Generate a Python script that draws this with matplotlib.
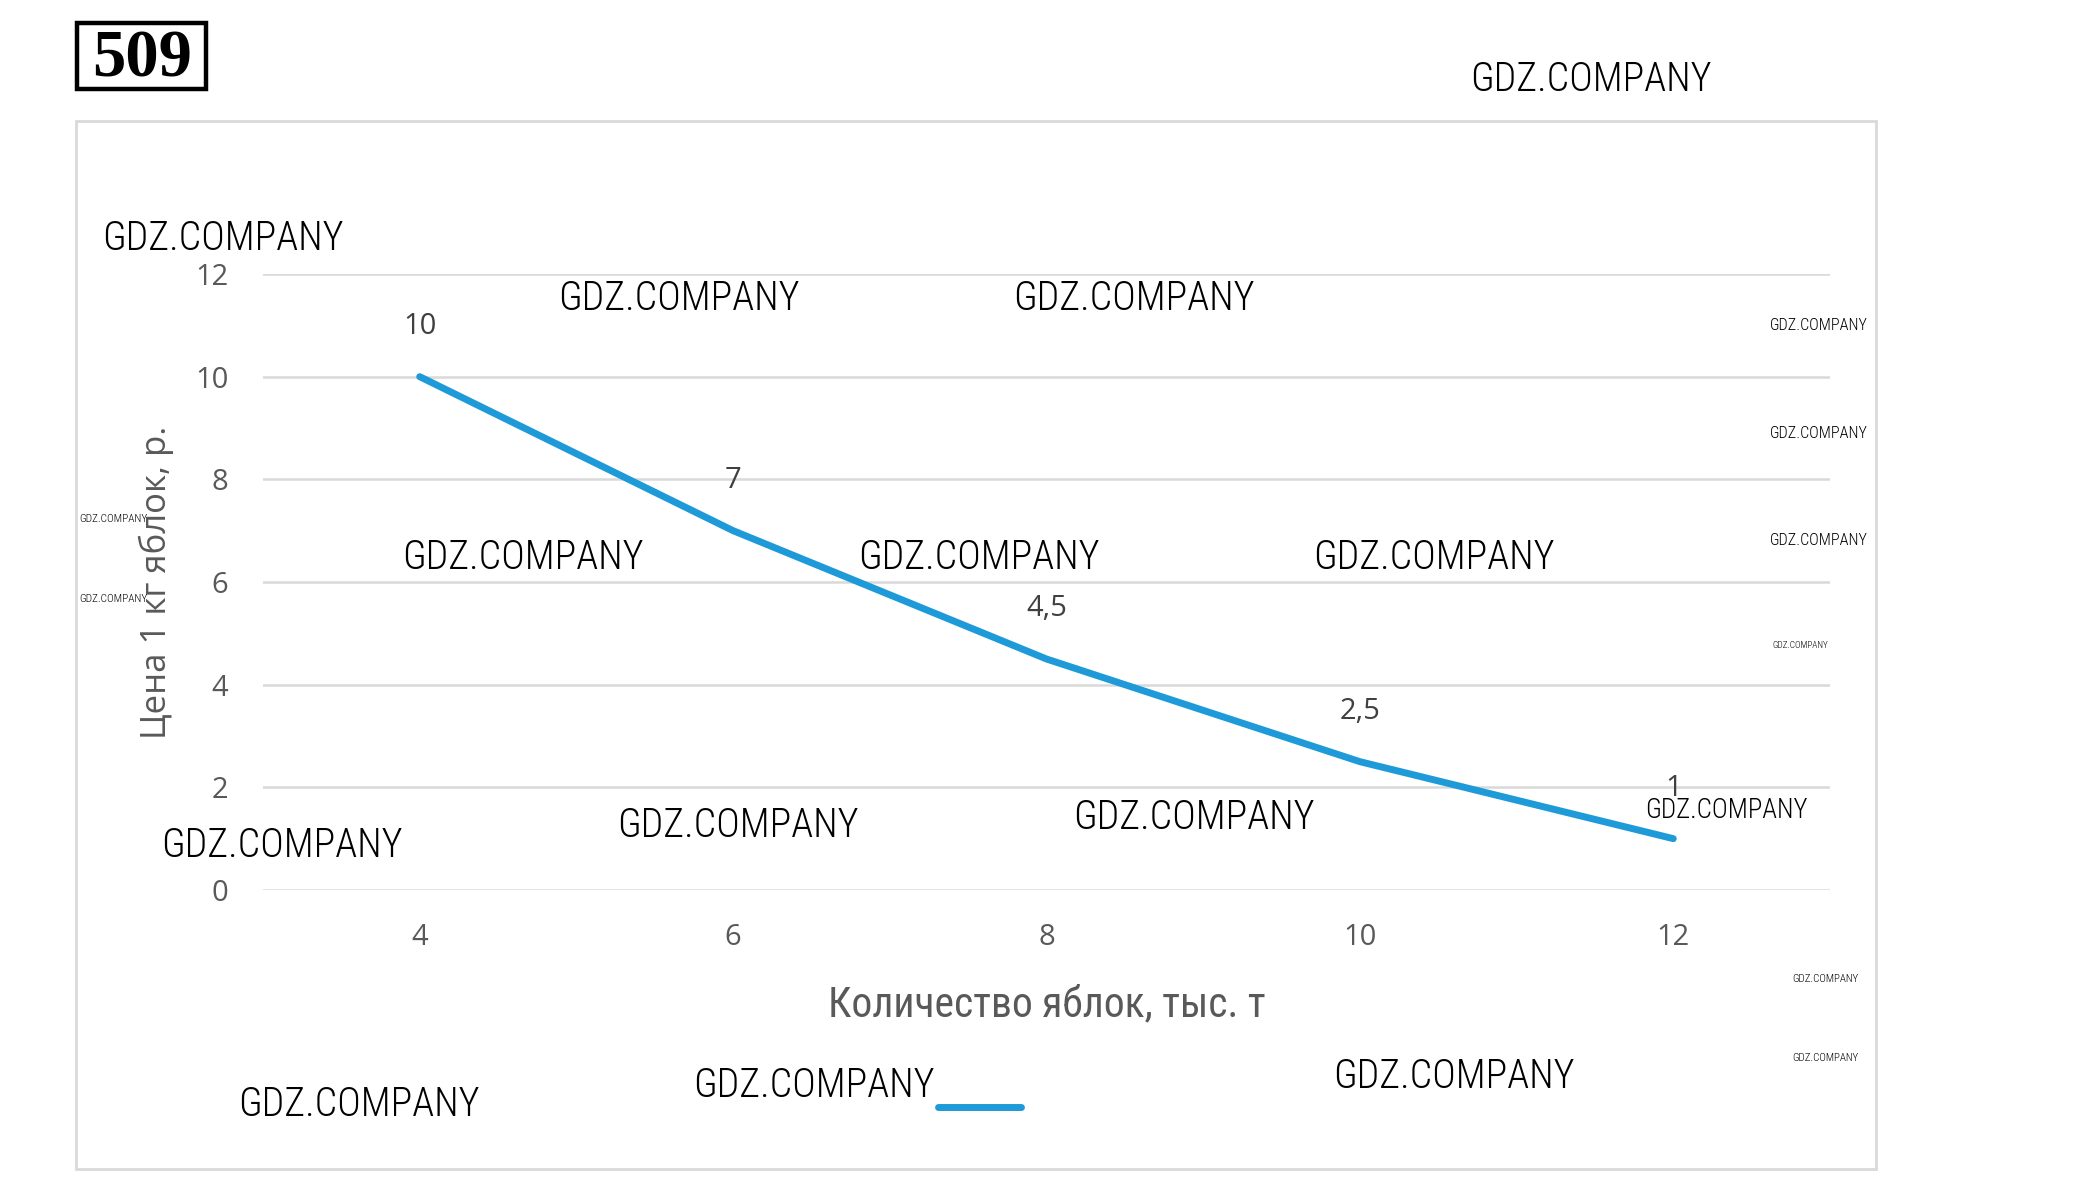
import matplotlib
matplotlib.use('Agg')
import matplotlib.pyplot as plt
from matplotlib import font_manager
from matplotlib.patches import Rectangle

# data
quantity = ['4', '6', '8', '10', '12']          # тыс. т
price = [10, 7, 4.5, 2.5, 1]                     # р. за 1 кг
price_labels = ['10', '7', '4,5', '2,5', '1']
y_ticks = [0, 2, 4, 6, 8, 10, 12]

W, H = 2082, 1184
line_color = '#1f9ad8'
grid_color = '#d9d9d9'

installed = {f.name for f in font_manager.fontManager.ttflist}
narrow = next((n for n in ['Roboto Condensed', 'Liberation Sans Narrow', 'Open Sans Condensed']
               if n in installed), 'DejaVu Sans')
base = 'Open Sans' if 'Open Sans' in installed else 'DejaVu Sans'

fig = plt.figure(figsize=(W / 100, H / 100), dpi=100)
fig.patch.set_facecolor('white')

def fx(px):
    return px / W

def fy(px):
    return 1 - px / H

# outer chart border
fig.add_artist(Rectangle((fx(76), fy(1169)), fx(1876) - fx(76), (1169 - 121) / H,
                         transform=fig.transFigure, fill=False,
                         edgecolor=grid_color, lw=2))

# task number box
fig.add_artist(Rectangle((fx(77), fy(89)), 129 / W, 66 / H,
                         transform=fig.transFigure, fill=False,
                         edgecolor='black', lw=3.2))
fig.text(fx(142), fy(60), '509', ha='center', va='center', fontsize=48,
         fontweight='bold', family='Liberation Serif')

ax = fig.add_axes([fx(263), 294 / H, (1830 - 263) / W, 616 / H])
x = list(range(len(quantity)))
line, = ax.plot(x, price, color=line_color, lw=5, solid_capstyle='round',
                solid_joinstyle='round', zorder=3)

for xi, yi, lab in zip(x, price, price_labels):
    ax.annotate(lab, (xi, yi), xytext=(0, 36), textcoords='offset points',
                ha='center', va='center', fontsize=21, color='#404040', family=base)

ax.set_xlim(-0.5, len(quantity) - 0.5)
ax.set_ylim(0, 12)
ax.set_xticks(x)
ax.set_xticklabels(quantity)
ax.set_yticks(y_ticks)
ax.grid(axis='y', color=grid_color, lw=1.8)
ax.set_axisbelow(True)
for s in ax.spines.values():
    s.set_visible(False)
ax.tick_params(length=0, labelsize=21, labelcolor='#595959')
ax.tick_params(axis='y', pad=25)
ax.tick_params(axis='x', pad=24)
for t in ax.get_xticklabels() + ax.get_yticklabels():
    t.set_family(base)

ax.set_ylabel('Цена 1 кг яблок, р.', fontsize=25, color='#595959', family=base)
ax.yaxis.set_label_coords(-0.057, 0.5)
ax.set_xlabel('Количество яблок, тыс. т', fontsize=30, color='#595959', family=narrow)
ax.xaxis.set_label_coords(0.5, -0.153)

fig.legend(handles=[line], labels=[''], loc='center left',
           bbox_to_anchor=(fx(938), fy(1109)), frameon=False, fontsize=20,
           handlelength=3.0, handletextpad=0, borderpad=0, borderaxespad=0)

# watermarks: centre x, centre y, width (pixels)
watermarks = [
    (1591, 80, 240), (223, 239, 240), (679, 299, 240), (1134, 299, 240),
    (523, 558, 240), (979, 558, 240), (1434, 558, 240),
    (282, 846, 240), (738, 826, 240), (1194, 818, 240), (1726, 811, 162),
    (359, 1105, 240), (814, 1086, 240), (1454, 1077, 240),
    (1819, 325, 97), (1819, 433, 97), (1819, 540, 97),
    (1800, 645, 56), (113, 519, 68), (113, 599, 68),
    (1825, 979, 66), (1825, 1058, 66),
]
renderer = fig.canvas.get_renderer()
probe = fig.text(0, 0, 'GDZ.COMPANY', fontsize=10, family=narrow, fontweight='light')
w10 = probe.get_window_extent(renderer).width
probe.remove()
for wx, wy, ww in watermarks:
    fig.text(fx(wx), fy(wy), 'GDZ.COMPANY', ha='center', va='center',
             fontsize=10 * ww / w10, family=narrow, fontweight='light',
             color='black', zorder=10)

fig.savefig('out.png', dpi=100)
